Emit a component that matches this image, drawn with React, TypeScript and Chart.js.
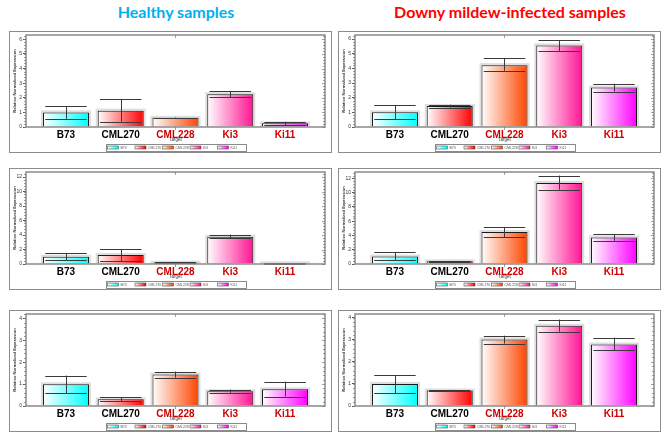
import React, { useEffect, useRef } from 'react';
import { Chart, registerables } from 'chart.js';
Chart.register(...registerables);

// ---------- data ----------
const categories = ['B73', 'CML270', 'CML228', 'Ki3', 'Ki11'];
const barColors = ['#00ffff', '#ff0000', '#ff4500', '#ff1493', '#ff00ff'];
const labelColors = ['#000000', '#000000', '#cc0000', '#cc0000', '#cc0000'];

const healthy1 = [1.0, 1.12, 0.63, 2.25, 0.25];
const healthy1Hi = [1.44, 1.89, 0.65, 2.45, 0.36];
const healthy1Lo = [0.56, 0.36, 0.6, 2.04, 0.12];

const infected1 = [1.0, 1.44, 4.22, 5.57, 2.69];
const infected1Hi = [1.48, 1.53, 4.68, 5.94, 2.95];
const infected1Lo = [0.52, 1.32, 3.84, 5.18, 2.42];

const healthy2 = [1.01, 1.24, 0.18, 3.76, 0.09];
const healthy2Hi = [1.47, 2.06, 0.22, 4.04, 0.12];
const healthy2Lo = [0.5, 0.37, 0.14, 3.53, 0.06];

const infected2 = [1.04, 0.38, 4.48, 11.37, 3.73];
const infected2Hi = [1.65, 0.42, 5.19, 12.4, 4.2];
const infected2Lo = [0.57, 0.33, 3.73, 10.42, 3.25];

const healthy3 = [0.99, 0.31, 1.44, 0.67, 0.76];
const healthy3Hi = [1.39, 0.4, 1.57, 0.75, 1.11];
const healthy3Lo = [0.58, 0.21, 1.3, 0.6, 0.43];

const infected3 = [1.0, 0.7, 3.01, 3.63, 2.78];
const infected3Hi = [1.4, 0.73, 3.18, 3.91, 3.09];
const infected3Lo = [0.58, 0.67, 2.82, 3.36, 2.51];

const yMaxes = [6.3, 6.28, 12.7, 12.9, 4.2, 4.16];
const ySteps = [1, 1, 2, 2, 1, 1];

const yTitle = 'Relative Normalized Expression';
const xTitle = 'Target';
const titleHealthy = 'Healthy samples';
const titleInfected = 'Downy mildew-infected samples';

// ---------- layout ----------
const W = 323;
const H = 122;
const PAD_L = 17;
const PAD_R = 7;
const PAD_B = 26;
const BAR_PCT = 0.84;

type PanelProps = {
  left: number;
  top: number;
  padTop: number;
  values: number[];
  hi: number[];
  lo: number[];
  yMax: number;
  step: number;
};

const panelPlugin = {
  id: 'panelDecor',
  beforeDraw(chart: any) {
    const ctx = chart.ctx;
    ctx.save();
    ctx.fillStyle = '#ffffff';
    ctx.fillRect(0, 0, chart.width, chart.height);
    ctx.strokeStyle = '#8c8c8c';
    ctx.lineWidth = 1;
    ctx.strokeRect(0.5, 0.5, chart.width - 1, chart.height - 1);
    ctx.restore();
  },
  beforeDatasetsDraw(chart: any) {
    const ctx = chart.ctx;
    const meta = chart.getDatasetMeta(0);
    ctx.save();
    ctx.fillStyle = '#dedede';
    meta.data.forEach((el: any) => {
      const { x, y, base, width } = el.getProps(['x', 'y', 'base', 'width'], true);
      ctx.fillRect(x - width / 2 - 2, y - 2, width + 4, base - y + 2);
    });
    ctx.restore();
  },
  afterDatasetsDraw(chart: any, _args: any, opts: any) {
    const ctx = chart.ctx;
    const ys = chart.scales.y;
    const { left, right, top, bottom } = chart.chartArea;
    const meta = chart.getDatasetMeta(0);
    ctx.save();
    // error bars
    ctx.strokeStyle = '#3a3a3a';
    ctx.lineWidth = 1;
    meta.data.forEach((el: any, i: number) => {
      const { x, width } = el.getProps(['x', 'width'], true);
      const yh = ys.getPixelForValue(opts.hi[i]);
      const yl = ys.getPixelForValue(opts.lo[i]);
      const cw = width * 0.45;
      ctx.beginPath();
      ctx.moveTo(Math.round(x) + 0.5, yh);
      ctx.lineTo(Math.round(x) + 0.5, yl);
      ctx.moveTo(x - cw, Math.round(yh) + 0.5);
      ctx.lineTo(x + cw, Math.round(yh) + 0.5);
      ctx.moveTo(x - cw, Math.round(yl) + 0.5);
      ctx.lineTo(x + cw, Math.round(yl) + 0.5);
      ctx.stroke();
    });
    // plot box
    ctx.strokeStyle = '#8a8a8a';
    ctx.lineWidth = 1.5;
    ctx.strokeRect(left, top, right - left, bottom - top);
    // minor ticks
    ctx.strokeStyle = '#777';
    ctx.lineWidth = 0.7;
    const minor = opts.step / 5;
    ctx.beginPath();
    for (let v = 0; v <= opts.yMax + 1e-9; v += minor) {
      const py = Math.round(ys.getPixelForValue(v)) + 0.5;
      const isMajor = Math.abs(v / opts.step - Math.round(v / opts.step)) < 1e-6;
      ctx.moveTo(left, py);
      ctx.lineTo(left - 2, py);
      ctx.moveTo(right, py);
      ctx.lineTo(right - (isMajor ? 3 : 2), py);
    }
    const cx = (left + right) / 2;
    ctx.moveTo(cx, top);
    ctx.lineTo(cx, top + 3);
    ctx.moveTo(cx, bottom);
    ctx.lineTo(cx, bottom + 3);
    ctx.stroke();
    // y title
    ctx.fillStyle = '#333';
    ctx.font = 'bold 4.2px "Liberation Sans", Arial, sans-serif';
    ctx.textAlign = 'center';
    ctx.textBaseline = 'middle';
    ctx.save();
    ctx.translate(6, (top + bottom) / 2);
    ctx.rotate(-Math.PI / 2);
    ctx.fillText(yTitle, 0, 0);
    ctx.restore();
    // x title
    ctx.font = '4.5px "Liberation Sans", Arial, sans-serif';
    ctx.fillText(xTitle, cx, bottom + 13);
    // legend
    const lw = 140;
    const lx = cx - lw / 2;
    const ly = chart.height - 9;
    ctx.fillStyle = '#ffffff';
    ctx.fillRect(lx, ly, lw, 7);
    ctx.strokeStyle = '#8a8a8a';
    ctx.lineWidth = 1;
    ctx.strokeRect(Math.round(lx) + 0.5, ly + 0.5, lw, 7);
    ctx.font = '3.5px "Liberation Sans", Arial, sans-serif';
    ctx.textAlign = 'left';
    categories.forEach((c, i) => {
      const sx = lx + 2 + i * 27.5;
      const g = ctx.createLinearGradient(sx, 0, sx + 11, 0);
      g.addColorStop(0, '#ffffff');
      g.addColorStop(1, barColors[i]);
      ctx.fillStyle = g;
      ctx.fillRect(sx, ly + 2, 11, 3);
      ctx.strokeStyle = '#333';
      ctx.lineWidth = 0.5;
      ctx.strokeRect(sx, ly + 2, 11, 3);
      ctx.fillStyle = '#555';
      ctx.fillText(c, sx + 13, ly + 3.8);
    });
    ctx.restore();
  },
};

function Panel(p: PanelProps) {
  const ref = useRef<HTMLCanvasElement>(null);
  useEffect(() => {
    const chart = new Chart(ref.current as HTMLCanvasElement, {
      type: 'bar',
      data: {
        datasets: [
          {
            data: p.values.map((v, i) => ({ x: i, y: v })),
            backgroundColor: (c: any) => {
              const ch = c.chart;
              const xs = ch.scales && ch.scales.x;
              if (!xs || !ch.chartArea) return barColors[c.dataIndex];
              const cx = xs.getPixelForValue(c.dataIndex);
              const hw = ((xs.getPixelForValue(1) - xs.getPixelForValue(0)) * BAR_PCT) / 2;
              const g = ch.ctx.createLinearGradient(cx - hw, 0, cx + hw, 0);
              g.addColorStop(0, '#ffffff');
              g.addColorStop(1, barColors[c.dataIndex]);
              return g;
            },
            borderColor: '#1a1a1a',
            borderWidth: 1,
            barPercentage: BAR_PCT,
            categoryPercentage: 1,
          } as any,
        ],
      },
      options: {
        responsive: false,
        animation: false,
        devicePixelRatio: 1,
        layout: { padding: { left: 0, top: p.padTop, right: PAD_R, bottom: 0 } },
        plugins: {
          legend: { display: false },
          tooltip: { enabled: false },
          panelDecor: { hi: p.hi, lo: p.lo, yMax: p.yMax, step: p.step },
        } as any,
        scales: {
          x: {
            type: 'linear',
            offset: false,
            min: -0.73,
            max: 4.73,
            grid: { display: false, drawTicks: false },
            border: { display: false },
            afterBuildTicks: (s: any) => {
              s.ticks = categories.map((_, i) => ({ value: i }));
            },
            afterFit: (s: any) => {
              s.height = PAD_B;
            },
            ticks: {
              autoSkip: false,
              maxRotation: 0,
              minRotation: 0,
              padding: 2,
              callback: (v: any) => categories[v],
              color: (c: any) => labelColors[c.index],
              font: { family: '"Liberation Sans", Arial, sans-serif', weight: 'bold', size: 10 },
            },
          } as any,
          y: {
            min: 0,
            max: p.yMax,
            afterFit: (s: any) => {
              s.width = PAD_L;
            },
            ticks: {
              stepSize: p.step,
              includeBounds: false,
              padding: 1,
              color: '#333',
              font: { family: '"Liberation Sans", Arial, sans-serif', size: 5 },
            },
            grid: { drawOnChartArea: false, tickLength: 3, color: '#555' },
            border: { display: false },
          } as any,
        },
      },
      plugins: [panelPlugin],
    });
    return () => chart.destroy();
  }, []);
  return (
    <canvas
      ref={ref}
      width={W}
      height={H}
      style={{ position: 'absolute', left: p.left, top: p.top, width: W, height: H }}
    />
  );
}

const titleStyle: React.CSSProperties = {
  position: 'absolute',
  top: 3,
  width: 400,
  textAlign: 'center',
  fontFamily: 'Lato, "Open Sans", sans-serif',
  fontWeight: 'bold',
  fontSize: 16,
  lineHeight: '18px',
  whiteSpace: 'nowrap',
};

export default function App() {
  return (
    <div
      style={{
        position: 'absolute',
        left: 0,
        top: 0,
        width: 663,
        height: 438,
        background: '#ffffff',
        overflow: 'hidden',
      }}
    >
      <div style={{ ...titleStyle, left: 176 - 200, color: '#00b0f0' }}>{titleHealthy}</div>
      <div style={{ ...titleStyle, left: 510 - 200, color: '#ff0000' }}>{titleInfected}</div>
      <Panel left={9} top={31} padTop={3} values={healthy1} hi={healthy1Hi} lo={healthy1Lo} yMax={yMaxes[0]} step={ySteps[0]} />
      <Panel left={338} top={31} padTop={3} values={infected1} hi={infected1Hi} lo={infected1Lo} yMax={yMaxes[1]} step={ySteps[1]} />
      <Panel left={9} top={168} padTop={4} values={healthy2} hi={healthy2Hi} lo={healthy2Lo} yMax={yMaxes[2]} step={ySteps[2]} />
      <Panel left={338} top={168} padTop={4} values={infected2} hi={infected2Hi} lo={infected2Lo} yMax={yMaxes[3]} step={ySteps[3]} />
      <Panel left={9} top={310} padTop={2} values={healthy3} hi={healthy3Hi} lo={healthy3Lo} yMax={yMaxes[4]} step={ySteps[4]} />
      <Panel left={338} top={310} padTop={2} values={infected3} hi={infected3Hi} lo={infected3Lo} yMax={yMaxes[5]} step={ySteps[5]} />
    </div>
  );
}
